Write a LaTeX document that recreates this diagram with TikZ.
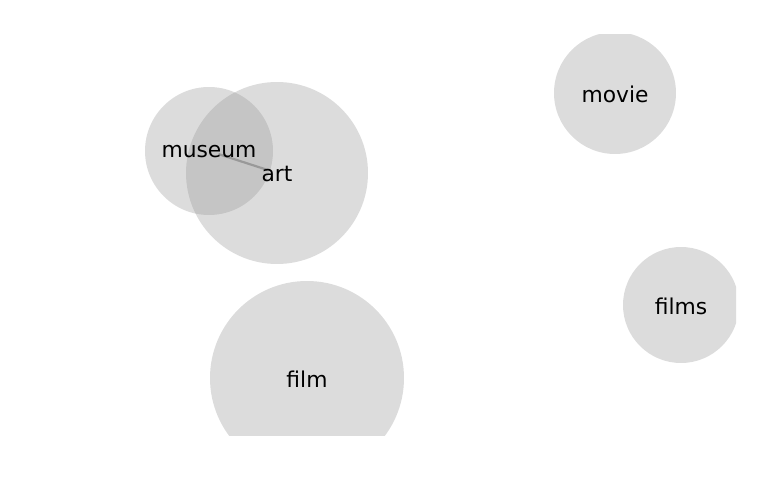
\documentclass[tikz,border=0pt]{standalone}
\usepackage{fontspec}
\setmainfont{DejaVu Sans}
\begin{document}
\begin{tikzpicture}[x=1pt,y=-1pt,
  bub/.style={circle,fill={rgb,255:red,150;green,150;blue,150},fill opacity=0.33,draw=none,inner sep=0pt},
  lab/.style={font=\fontsize{21.8}{22}\selectfont,text=black,yshift=-1pt},
  lnk/.style={draw={rgb,255:red,110;green,110;blue,110},line width=2.2pt,opacity=0.5}]
\useasboundingbox (0,0) rectangle (769,500);
\begin{scope}
\clip (34,35) rectangle (736,435);
\node[bub,minimum size=182pt] (artc) at (277,173) {};
\node[bub,minimum size=128pt] (museumc) at (209,151) {};
\node[bub,minimum size=122pt] (moviec) at (615,93) {};
\node[bub,minimum size=194pt] (filmc) at (307,378) {};
\node[bub,minimum size=116pt] (filmsc) at (681,305) {};
\end{scope}
\coordinate (m) at (209,151);
\coordinate (a) at (277,173);
\draw[lnk,shorten <=10pt,shorten >=10pt] (m) -- (a);
\node[lab] (museum) at (209,151) {museum};
\node[lab] (art) at (277,173) {art};
\node[lab] (movie) at (615,93) {movie};
\node[lab] (film) at (307,378) {film};
\node[lab] (films) at (681,305) {films};
\end{tikzpicture}
\end{document}
